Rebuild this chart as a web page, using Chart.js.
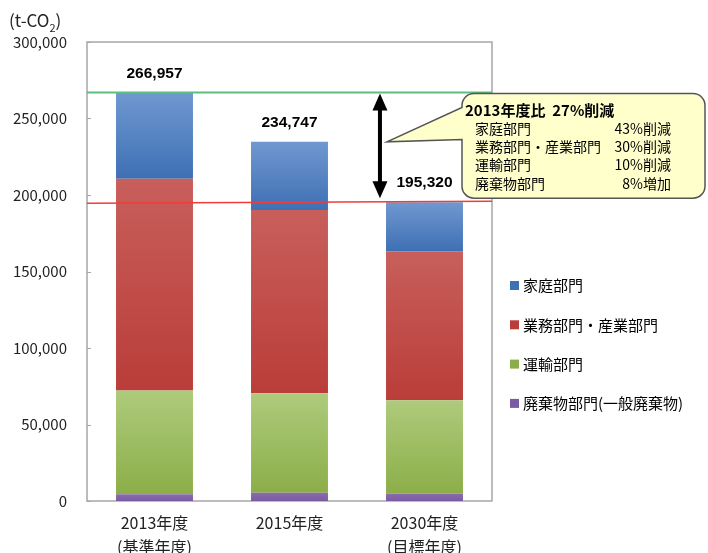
<!DOCTYPE html>
<html>
<head>
<meta charset="utf-8">
<script src="https://cdn.jsdelivr.net/npm/chart.js@4.4.1/dist/chart.umd.min.js"></script>
<style>
    html, body { margin: 0; padding: 0; background: #fff; }
    #wrap { width: 708px; height: 553px; position: relative; }
</style>
</head>
<body>
<div id="wrap"><canvas id="chart"></canvas></div>
<script>
// データ (t-CO2)
const categories = [["2013年度", "(基準年度)"], ["2015年度"], ["2030年度", "(目標年度)"]];
const sectorNames = ["廃棄物部門(一般廃棄物)", "運輸部門", "業務部門・産業部門", "家庭部門"];
const wasteValues = [4400, 5400, 4750];
const transportValues = [67900, 65100, 61100];
const businessValues = [138400, 119650, 97400];
const householdValues = [56257, 44597, 32070];
const yTickStep = 50000;
const yMax = 300000;
const unitLabel = "(t-CO";
const calloutTitle = "2013年度比  27%削減";
const calloutRows = [
    ["家庭部門", "43%削減"],
    ["業務部門・産業部門", "30%削減"],
    ["運輸部門", "10%削減"],
    ["廃棄物部門", "8%増加"],
];

const FONT = "'Noto Sans CJK JP', 'Noto Sans', sans-serif";

// [上の色, 下の色]
const SERIES_COLORS = [
    ["#8a6bb0", "#7a5aa0"],
    ["#aecb7c", "#8cae48"],
    ["#c85f5b", "#ba3d39"],
    ["#7098d0", "#3e70b4"],
];

function gradientFill(dsIndex) {
    return (ctx) => {
        const chart = ctx.chart;
        const cols = SERIES_COLORS[dsIndex];
        const y = chart.scales.y;
        if (!chart.chartArea || !y || ctx.type !== "data") return cols[1];
        let start = 0;
        for (let k = 0; k < dsIndex; k++) start += chart.data.datasets[k].data[ctx.dataIndex];
        const end = start + chart.data.datasets[dsIndex].data[ctx.dataIndex];
        const g = chart.ctx.createLinearGradient(0, y.getPixelForValue(end), 0, y.getPixelForValue(start));
        g.addColorStop(0, cols[0]);
        g.addColorStop(1, cols[1]);
        return g;
    };
}

const seriesValues = [wasteValues, transportValues, businessValues, householdValues];
const datasets = seriesValues.map((vals, i) => ({
    label: sectorNames[i],
    data: vals,
    backgroundColor: gradientFill(i),
    legendColor: SERIES_COLORS[i][1],
    borderWidth: 0,
    categoryPercentage: 1,
    barPercentage: 0.57,
}));

function totals(chart) {
    return chart.data.labels.map((_, j) =>
        chart.data.datasets.reduce((s, ds) => s + ds.data[j], 0));
}

const overlay = {
    id: "overlay",
    beforeDatasetsDraw(chart) {
        const { ctx, chartArea: a } = chart;
        const y = chart.scales.y;
        ctx.save();
        // 枠
        ctx.strokeStyle = "#a6a6a6";
        ctx.lineWidth = 1.5;
        ctx.strokeRect(a.left, a.top, a.right - a.left, a.bottom - a.top);
        // 内向き目盛
        ctx.lineWidth = 1;
        for (let v = 0; v <= yMax; v += yTickStep) {
            const py = Math.round(y.getPixelForValue(v)) + 0.5;
            ctx.beginPath();
            ctx.moveTo(a.left, py);
            ctx.lineTo(a.left + 4, py);
            ctx.stroke();
        }
        ctx.restore();
    },
    afterDraw(chart) {
        const { ctx, chartArea: a } = chart;
        const x = chart.scales.x;
        const y = chart.scales.y;
        const tot = totals(chart);
        const baseY = y.getPixelForValue(tot[0]);
        const targetY = y.getPixelForValue(tot[2]);
        ctx.save();

        // 基準線・目標線
        ctx.lineWidth = 2;
        ctx.strokeStyle = "#5cbf7d";
        ctx.beginPath();
        ctx.moveTo(a.left, baseY);
        ctx.lineTo(a.right, baseY);
        ctx.stroke();
        ctx.lineWidth = 1.5;
        ctx.strokeStyle = "#f03c3c";
        ctx.beginPath();
        ctx.moveTo(a.left, targetY + 1);
        ctx.lineTo(a.right, targetY - 1);
        ctx.stroke();

        // 合計値
        ctx.fillStyle = "#000";
        ctx.font = "bold 15.5px 'Liberation Sans', Arial, sans-serif";
        ctx.textAlign = "center";
        ctx.textBaseline = "middle";
        tot.forEach((t, j) => {
            ctx.fillText(t.toLocaleString("en-US"), x.getPixelForValue(j), y.getPixelForValue(t) - 19);
        });

        // 両矢印
        const step = x.getPixelForValue(2) - x.getPixelForValue(1);
        const ax = x.getPixelForValue(2) - step * 0.33;
        const top = baseY + 1, bot = targetY - 4;
        ctx.fillStyle = "#000";
        ctx.fillRect(ax - 2, top + 12, 4, bot - top - 24);
        ctx.beginPath();
        ctx.moveTo(ax, top);
        ctx.lineTo(ax + 7.5, top + 17);
        ctx.lineTo(ax - 7.5, top + 17);
        ctx.closePath();
        ctx.fill();
        ctx.beginPath();
        ctx.moveTo(ax, bot);
        ctx.lineTo(ax + 7.5, bot - 17);
        ctx.lineTo(ax - 7.5, bot - 17);
        ctx.closePath();
        ctx.fill();

        // 吹き出し
        const bl = a.right - 30, bt = baseY + 1, br = 705, bb = targetY - 4, r = 12;
        const tipX = ax + 7, tipY = (top + bot) / 2 - 4;
        ctx.beginPath();
        ctx.moveTo(bl + r, bt);
        ctx.lineTo(br - r, bt);
        ctx.arcTo(br, bt, br, bt + r, r);
        ctx.lineTo(br, bb - r);
        ctx.arcTo(br, bb, br - r, bb, r);
        ctx.lineTo(bl + r, bb);
        ctx.arcTo(bl, bb, bl, bb - r, r);
        ctx.lineTo(bl, bt + 46);
        ctx.lineTo(tipX, tipY);
        ctx.lineTo(bl, bt + 14);
        ctx.lineTo(bl, bt + r);
        ctx.arcTo(bl, bt, bl + r, bt, r);
        ctx.closePath();
        ctx.fillStyle = "#ffffcc";
        ctx.fill();
        ctx.strokeStyle = "#555";
        ctx.lineWidth = 1.5;
        ctx.stroke();

        ctx.fillStyle = "#000";
        ctx.textAlign = "left";
        ctx.font = "bold 15px " + FONT;
        ctx.fillText(calloutTitle, bl + 3, bt + 17);
        ctx.font = "14px " + FONT;
        calloutRows.forEach((row, i) => {
            const ry = bt + 35 + i * 18.3;
            ctx.textAlign = "left";
            ctx.fillText(row[0], bl + 13, ry);
            ctx.textAlign = "right";
            ctx.fillText(row[1], br - 34, ry);
        });

        // 単位
        ctx.textAlign = "left";
        ctx.font = "17px " + FONT;
        ctx.fillStyle = "#222";
        ctx.fillText(unitLabel, 9, 21);
        const w = ctx.measureText(unitLabel).width;
        ctx.font = "11px " + FONT;
        ctx.fillText("2", 9 + w, 28);
        ctx.font = "17px " + FONT;
        ctx.fillText(")", 9 + w + 6, 21);

        // 凡例 (上から逆順)
        ctx.font = "15px " + FONT;
        const items = chart.data.datasets.slice().reverse();
        items.forEach((ds, i) => {
            const ly = 285.5 + i * 39.3;
            ctx.fillStyle = ds.legendColor;
            ctx.fillRect(510, ly - 4.5, 9, 9);
            ctx.fillStyle = "#000";
            ctx.textAlign = "left";
            ctx.fillText(ds.label, 523, ly);
        });
        ctx.restore();
    },
};

new Chart(document.getElementById("chart"), {
    type: "bar",
    data: { labels: categories, datasets },
    options: {
        responsive: true,
        maintainAspectRatio: false,
        animation: false,
        layout: { padding: { top: 42, right: 216, left: 0, bottom: 0 } },
        plugins: { legend: { display: false }, tooltip: { enabled: false } },
        scales: {
            x: {
                stacked: true,
                grid: { display: false, drawTicks: false },
                border: { display: false },
                ticks: {
                    color: "#222",
                    padding: 10,
                    maxRotation: 0,
                    font: { family: FONT, size: 16, lineHeight: 1.5 },
                },
                afterFit(s) { s.height = 52; },
            },
            y: {
                stacked: true,
                min: 0,
                max: yMax,
                grid: { display: false, drawTicks: false },
                border: { display: false },
                ticks: {
                    stepSize: yTickStep,
                    color: "#222",
                    padding: 20,
                    font: { family: FONT, size: 15 },
                    callback: (v) => v.toLocaleString("en-US"),
                },
                afterFit(s) { s.width = 87; },
            },
        },
    },
    plugins: [overlay],
});
</script>
</body>
</html>
